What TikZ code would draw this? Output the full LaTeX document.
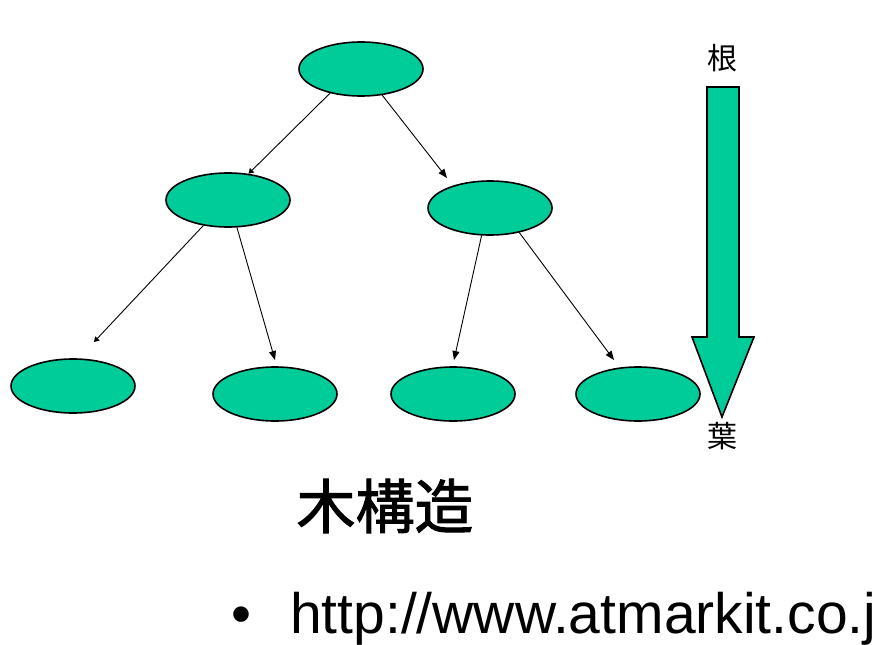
\documentclass[tikz,border=0pt]{standalone}
\usepackage{fontspec}
\setmainfont{Liberation Sans}
\newfontfamily\cjk{Noto Sans CJK JP}
\newfontfamily\cjktitle[FakeBold=1.6]{Noto Sans CJK JP}
\usetikzlibrary{arrows.meta,shapes.geometric}
\definecolor{treegreen}{RGB}{0,204,153}
\tikzset{
  treenode/.style={ellipse,draw=black,line width=1.6pt,fill=treegreen,
    minimum width=124pt,minimum height=54pt,inner sep=0pt},
  link/.style={line width=0.9pt,-{Triangle[length=9pt,width=7pt]}},
  smalllink/.style={line width=0.9pt,-{Triangle[length=5pt,width=6pt]}},
  bigarrow/.style={draw=black,line width=1.6pt,fill=treegreen,line join=miter},
  cjklabel/.style={inner sep=0pt,font=\cjk\fontsize{30}{30}\selectfont},
  title/.style={inner sep=0pt,font=\cjktitle\fontsize{59}{59}\selectfont},
  urltext/.style={inner sep=0pt,anchor=base west,font=\fontsize{57}{57}\selectfont}
}
\begin{document}
\begin{tikzpicture}[x=1pt,y=-1pt]
\useasboundingbox[fill=white] (0,0) rectangle (887,645);
% nodes
\node[treenode] (root) at (361,69) {};
\node[treenode] (l1l) at (228,200) {};
\node[treenode] (l1r) at (490,208) {};
\node[treenode] (lf1) at (73,386) {};
\node[treenode] (lf2) at (275,394) {};
\node[treenode] (lf3) at (453,394) {};
\node[treenode] (lf4) at (638,394) {};
% free arrow ends
\coordinate (t2) at (447,178);
\coordinate (t3) at (94,342);
\coordinate (t4) at (275,360);
\coordinate (t5) at (454,360);
\coordinate (t6) at (614,360);
% connectors
\draw[smalllink] (root.218) -- (l1l.52);
\draw[link] (root.309) -- (t2);
\draw[smalllink] (l1l.226) -- (t3);
\draw[link] (l1l.288) -- (t4);
\draw[link] (l1r.253) -- (t5);
\draw[link] (l1r.320) -- (t6);
% big arrow root -> leaf
\draw[bigarrow] (707,87) -- (739,87) -- (739,337) -- (754,337) -- (722,417)
  -- (692,337) -- (707,337) -- cycle;
\node[cjklabel] (ne) at (722,58.5) {根};
\node[cjklabel] (ha) at (722,436) {葉};
% titles
\node[title] (ttl) at (385,506) {木構造};
\node[urltext] (bul) at (231.5,633) {•};
\node[urltext] (url) at (290,633) {http://www.atmarkit.co.j};
\end{tikzpicture}
\end{document}
